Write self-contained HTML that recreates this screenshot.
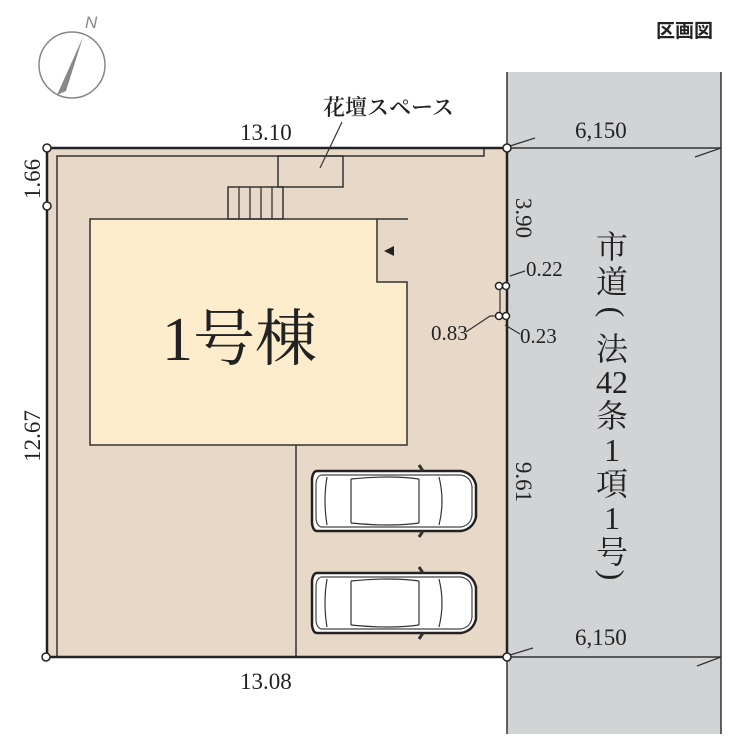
<!DOCTYPE html>
<html><head><meta charset="utf-8"><style>
html,body{margin:0;padding:0;background:#fff;}
svg{display:block}
.s{font-family:"Liberation Serif","Noto Serif CJK SC",serif;fill:#222;}
</style></head><body>
<svg width="752" height="750" viewBox="0 0 752 750" xmlns="http://www.w3.org/2000/svg">
<defs>
<g id="car">
<path d="M6,4 Q2,4 1,12 L1,56 Q2,64 6,64 L150,64 Q162,62 165,50 L165,18 Q162,6 150,4 Z" fill="#fff" stroke="#222" stroke-width="2.5"/>
<path d="M10,8 L150,8 Q160,10 161,20 L161,48 Q160,58 150,60 L10,60 Q5,58 5,50 L5,18 Q5,10 10,8Z" fill="none" stroke="#444" stroke-width="1.2"/>
<path d="M16,10 Q12,34 16,58" fill="none" stroke="#333" stroke-width="1.2"/>
<path d="M40,12 L40,56 M108,12 L108,56 M128,10 Q134,34 128,58" fill="none" stroke="#333" stroke-width="1.2"/>
<path d="M40,12 Q80,8 108,12 M40,56 Q80,60 108,56" fill="none" stroke="#333" stroke-width="1.2"/>
<path d="M108,-2 L112,4 M108,70 L112,64" stroke="#333" stroke-width="3"/>
</g>
</defs>
<rect x="507" y="72" width="214" height="662" fill="#d2d3d5"/>
<line x1="507" y1="72" x2="507" y2="734" stroke="#333" stroke-width="1.5"/>
<line x1="721" y1="72" x2="721" y2="734" stroke="#333" stroke-width="1.5"/>
<rect x="47" y="148" width="460" height="509" fill="#e8d8c8"/>
<path d="M57,657 L57,156 L484,156 L484,148" fill="none" stroke="#333" stroke-width="1.5"/>
<path d="M90,219 L377,219 L377,282 L407,282 L407,445 L90,445 Z" fill="#fdedcd" stroke="#333" stroke-width="1.5"/>
<line x1="377" y1="219" x2="408" y2="219" stroke="#333" stroke-width="1.5"/>
<polygon points="384,251 394,246 394,256" fill="#222"/>
<line x1="296" y1="445" x2="296" y2="657" stroke="#333" stroke-width="1.5"/>
<rect x="278" y="156" width="65" height="31" fill="none" stroke="#333" stroke-width="1.5"/>
<rect x="228" y="187" width="55" height="32" fill="none" stroke="#333" stroke-width="1.5"/>
<path d="M239,187V219M250,187V219M261,187V219M272,187V219" stroke="#333" stroke-width="1.3"/>
<line x1="320" y1="168" x2="342" y2="122" stroke="#333" stroke-width="1.2"/>
<use href="#car" x="311" y="467"/>
<use href="#car" x="311" y="569"/>
<path d="M47,148 L507,148 L507,657 L47,657 Z" fill="none" stroke="#222" stroke-width="2.5"/>
<line x1="507" y1="148" x2="721" y2="148" stroke="#333" stroke-width="1.5"/>
<line x1="507" y1="657" x2="721" y2="657" stroke="#333" stroke-width="1.5"/>
<path d="M510,146 L535,138 M721,148 L695,157 M510,655 L533,648 M721,657 L697,666" stroke="#333" stroke-width="1.3"/>
<path d="M500,282 L500,316 L490,316 L466,332" fill="none" stroke="#333" stroke-width="1.2"/>
<path d="M510,276 L525,271 M505,325 L520,334" stroke="#333" stroke-width="1.2"/>
<g fill="#fff" stroke="#222" stroke-width="1.5">
<circle cx="47" cy="148" r="4"/><circle cx="47" cy="206" r="4"/><circle cx="46" cy="657" r="4"/>
<circle cx="507" cy="148" r="4"/><circle cx="507" cy="657" r="4"/>
<circle cx="499" cy="286" r="3.5"/><circle cx="506" cy="286" r="3.5"/>
<circle cx="499" cy="316" r="3.5"/><circle cx="506" cy="316" r="3.5"/>
</g>
<circle cx="72" cy="65" r="33" fill="none" stroke="#888" stroke-width="1.5"/>
<polygon points="83,37 57,95 66,91" fill="#888"/>
<text x="85" y="28" font-family="Liberation Sans,sans-serif" font-style="italic" font-size="17" fill="#888">N</text>
<text x="656" y="37" font-family="'Liberation Sans','Noto Sans CJK JP',sans-serif" font-weight="bold" font-size="19" fill="#222">区画図</text>
<text x="323" y="115" class="s" font-size="22" font-weight="600">花壇スペース</text>
<text x="240" y="140" class="s" font-size="23">13.10</text>
<text x="240" y="689" class="s" font-size="23">13.08</text>
<text x="575" y="138" class="s" font-size="23">6,150</text>
<text x="575" y="645" class="s" font-size="23">6,150</text>
<text x="526" y="276" class="s" font-size="21">0.22</text>
<text x="520" y="343" class="s" font-size="21">0.23</text>
<text x="431" y="340" class="s" font-size="21">0.83</text>
<text class="s" font-size="23" transform="translate(40,179) rotate(-90)" text-anchor="middle">1.66</text>
<text class="s" font-size="23" transform="translate(40,436) rotate(-90)" text-anchor="middle">12.67</text>
<text class="s" font-size="23" transform="translate(516,218) rotate(90)" text-anchor="middle">3.90</text>
<text class="s" font-size="23" transform="translate(516,482) rotate(90)" text-anchor="middle">9.61</text>
<text x="162" y="360" class="s" font-size="62">1号棟</text>
<g class="s" font-size="32" text-anchor="middle">
<text x="612" y="258">市</text><text x="612" y="293">道</text>
<text x="612" y="322" transform="rotate(90 612 312)">(</text>
<text x="612" y="360">法</text><text x="612" y="393">42</text><text x="612" y="427">条</text>
<text x="612" y="461">1</text><text x="612" y="495">項</text><text x="612" y="529">1</text><text x="612" y="563">号</text>
<text x="612" y="585" transform="rotate(90 612 575)">)</text>
</g>
</svg>
</body></html>
